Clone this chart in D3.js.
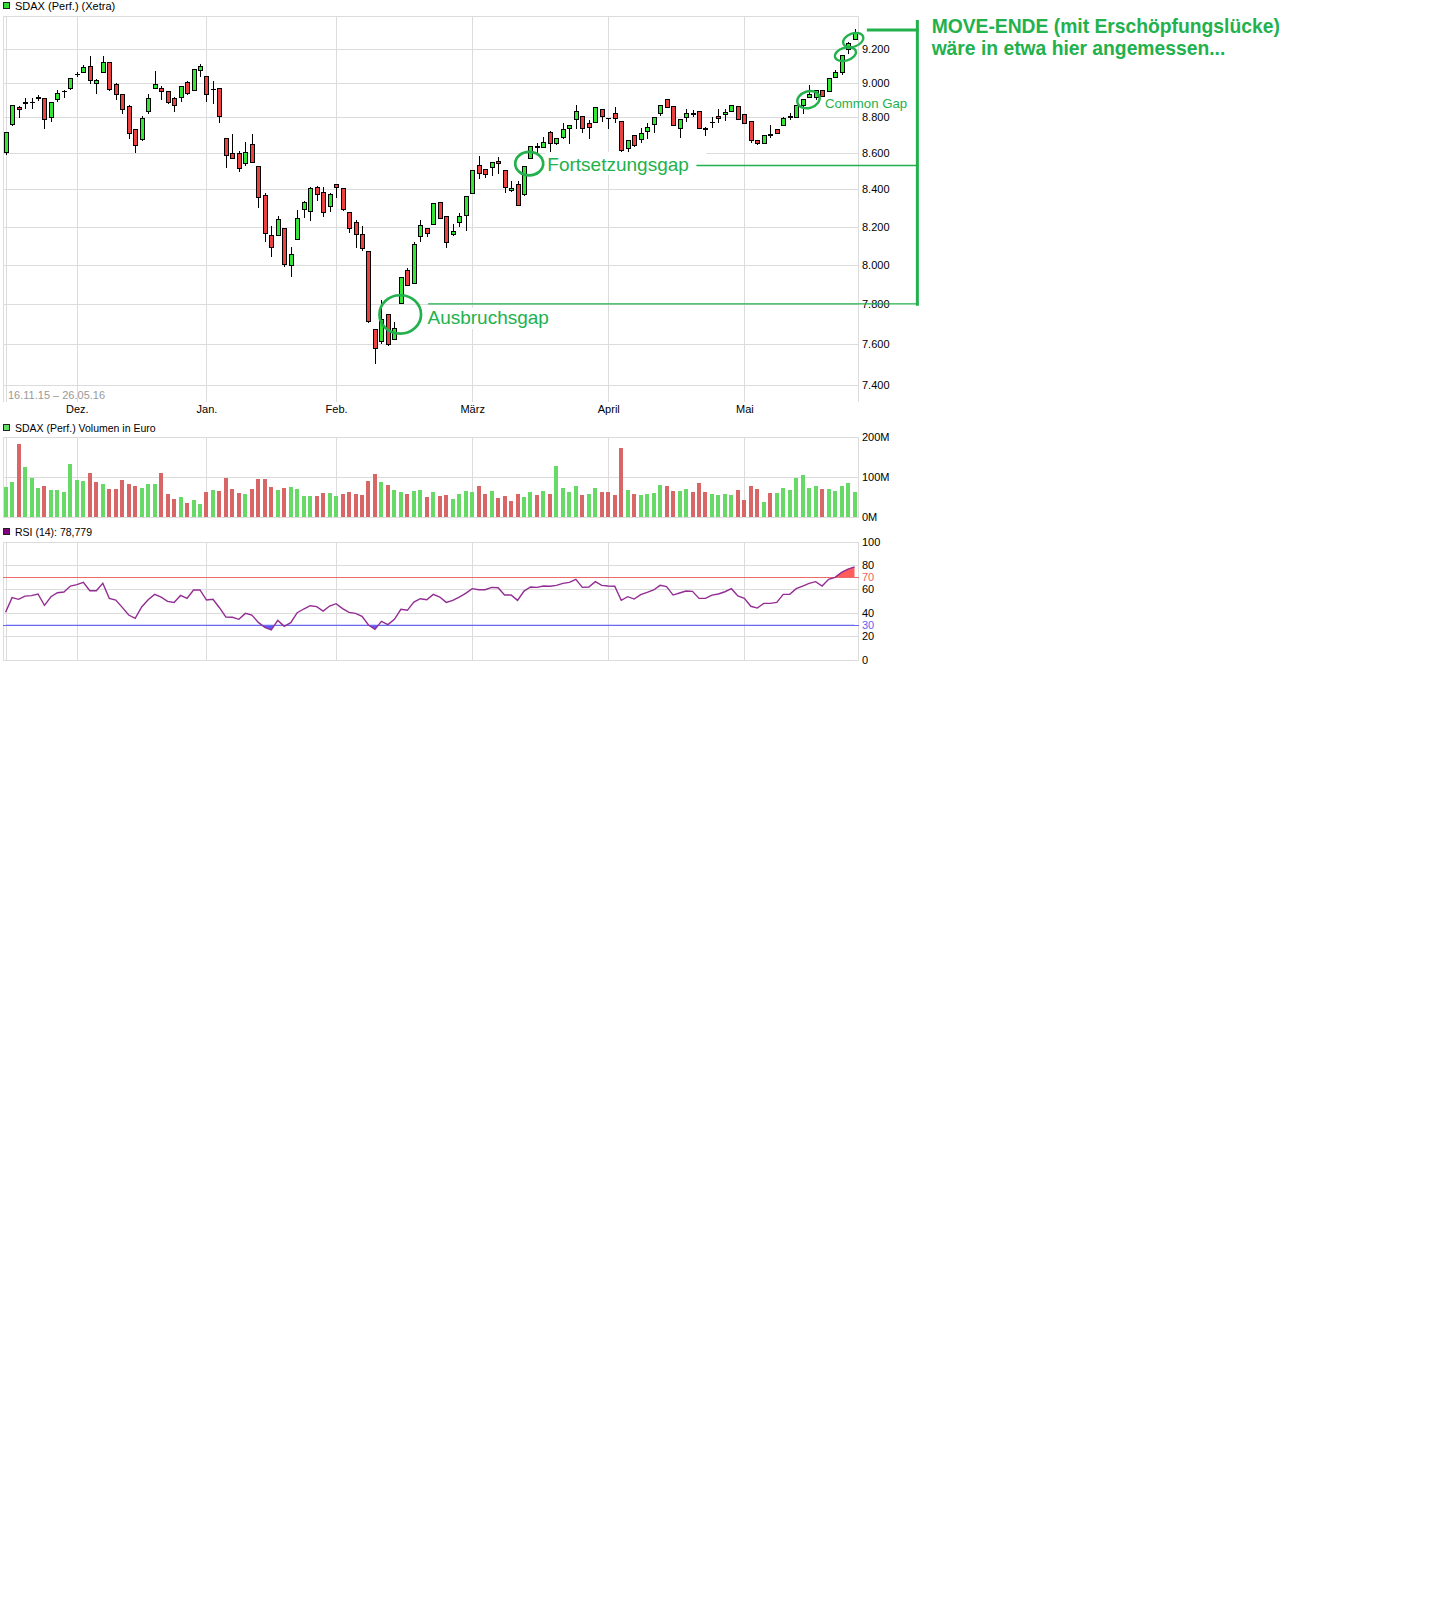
<!DOCTYPE html>
<html lang="de">
<head>
<meta charset="utf-8">
<title>SDAX (Perf.) (Xetra)</title>
<script src="https://cdn.jsdelivr.net/npm/d3@7"></script>
<style>
  html, body { margin:0; padding:0; background:#fff; }
  svg { display:block; }
  text { font-family: "Liberation Sans", Arial, Helvetica, sans-serif; }
</style>
</head>
<body>
<svg id="chart" width="1440" height="1599"></svg>
<script>
// ---------------- DATA ----------------
const openP = [8603,8764,8859,8891,8888,8920,8909,8800,8903,8954,
8971,9051,9065,9100,9000,9061,9124,8994,8937,8863,
8733,8678,8834,8971,8971,8949,8909,8920,9006,8960,
9076,9041,8963,8971,8683,8600,8600,8544,8650,8528,
8369,8153,8153,8190,8000,8132,8292,8284,8411,8387,
8311,8429,8405,8276,8222,8163,8074,7675,7613,7750,
7625,7805,7975,7905,8151,8195,8216,8329,8256,8163,
8226,8262,8378,8535,8513,8524,8553,8507,8396,8429,
8373,8571,8641,8633,8717,8656,8692,8739,8789,8809,
8770,8772,8846,8798,8823,8781,8628,8703,8678,8725,
8761,8823,8903,8866,8739,8800,8823,8834,8739,8776,
8811,8817,8834,8866,8817,8778,8672,8656,8705,8733,
8755,8811,8803,8874,8918,8918,8960,8949,9033,9063,
9200,9256];
const highP = [8717,8874,8865,8914,8914,8926,8909,8891,8960,8960,
9029,9061,9106,9155,9024,9155,9124,9000,8937,8869,
8733,8806,8934,9067,8983,8949,8918,8983,9012,9082,
9112,9041,9012,8971,8683,8709,8611,8661,8709,8528,
8380,8202,8256,8190,8092,8288,8335,8414,8418,8411,
8382,8429,8405,8276,8233,8202,8074,7675,7821,7750,
7708,7938,7985,8118,8237,8195,8327,8329,8256,8216,
8273,8364,8507,8585,8513,8550,8578,8507,8445,8445,
8529,8640,8656,8689,8724,8683,8767,8759,8874,8809,
8785,8857,8846,8798,8857,8781,8670,8703,8739,8767,
8803,8874,8903,8866,8789,8846,8843,8834,8748,8803,
8849,8849,8869,8866,8817,8778,8672,8703,8759,8733,
8803,8823,8869,8903,8989,8960,8960,9029,9073,9165,
9240,9320];
const lowP = [8594,8759,8803,8856,8852,8899,8742,8781,8895,8918,
8966,9039,9065,8998,8938,9061,8960,8907,8826,8683,
8603,8670,8823,8971,8903,8880,8834,8897,8932,8960,
9041,8895,8883,8776,8520,8572,8498,8533,8550,8303,
8123,8044,8153,7996,7943,8132,8251,8233,8341,8257,
8284,8357,8287,8171,8093,8079,7710,7507,7605,7593,
7625,7805,7897,7905,8125,8150,8216,8248,8093,8155,
8202,8180,8378,8462,8466,8478,8488,8387,8391,8313,
8368,8571,8600,8633,8609,8650,8683,8656,8739,8720,
8683,8772,8781,8742,8776,8603,8603,8637,8664,8683,
8720,8813,8857,8756,8692,8781,8808,8739,8702,8748,
8776,8785,8834,8789,8767,8659,8652,8656,8689,8714,
8755,8789,8803,8823,8918,8903,8923,8949,9033,9049,
9176,9256];
const closeP = [8717,8869,8846,8880,8889,8909,8789,8891,8943,8954,
9029,9051,9094,9018,9015,9124,8966,8937,8851,8711,
8644,8794,8909,8994,8949,8891,8874,8983,8943,9082,
9100,8937,8963,8811,8589,8572,8517,8606,8550,8357,
8168,8090,8243,8005,8058,8248,8329,8405,8375,8276,
8373,8411,8292,8195,8163,8088,7713,7581,7722,7600,
7680,7938,7897,8106,8211,8168,8324,8248,8121,8175,
8256,8364,8507,8488,8482,8550,8544,8411,8408,8313,
8529,8637,8631,8659,8656,8683,8733,8759,8838,8739,
8744,8857,8809,8798,8794,8614,8670,8644,8714,8748,
8800,8874,8857,8756,8789,8823,8820,8739,8735,8776,
8794,8830,8869,8789,8770,8670,8656,8703,8700,8714,
8794,8800,8869,8903,8937,8960,8923,9029,9063,9165,
9234,9300];
// Volume in million euro
const volumeM = [74,87,182,124,97,72,77,67,67,62,
134,92,89,109,87,82,69,69,92,82,
77,72,82,82,109,57,44,49,34,42,
32,62,67,64,97,69,59,57,69,94,
94,74,67,72,74,69,52,52,52,59,
59,52,57,62,57,54,89,107,87,79,
67,62,57,64,67,49,62,52,54,44,
57,64,62,77,57,64,47,52,39,57,
49,62,54,64,57,127,72,62,77,54,
57,72,62,62,54,174,67,57,54,57,
59,79,77,64,64,69,62,84,62,57,
54,57,54,67,42,77,69,37,59,59,
72,67,97,104,72,77,69,69,64,77,
84,62];
// RSI (14)
const rsi14 = [40.3,52.7,51.3,54.0,54.4,55.8,46.2,53.5,56.9,57.5,
62.5,63.7,65.6,58.6,58.6,64.8,52.1,50.7,44.5,38.0,
35.2,44.8,51.0,55.5,53.2,49.6,48.7,54.6,52.1,59.2,
59.2,50.7,51.3,44.2,36.3,36.1,34.4,39.4,38.0,31.8,
27.6,25.4,33.5,28.5,31.5,40.0,43.1,45.9,45.1,41.4,
45.6,47.6,43.4,40.3,39.4,36.9,29.6,25.9,32.7,29.9,
34.4,42.8,42.0,49.0,51.8,51.0,55.5,53.2,48.7,50.4,
53.2,56.3,60.3,59.4,59.4,61.4,61.1,54.9,54.9,50.4,
58.3,61.7,61.4,62.5,62.3,63.1,64.8,65.6,68.2,61.4,
61.7,66.2,63.1,62.5,62.3,50.4,53.5,51.5,55.2,57.2,
59.2,63.1,62.0,54.9,56.6,58.3,58.0,52.1,52.1,54.9,
55.8,57.7,60.3,54.1,52.1,45.4,43.9,47.9,47.9,48.7,
55.5,55.5,60.3,62.5,64.8,66.2,62.5,68.2,69.9,74.1,
76.9,78.779];
const monthLabels = ["Dez.","Jan.","Feb.","März","April","Mai"];
const monthStartIdx = [11,31,51,72,93,114];
const priceTicks = [9200,9000,8800,8600,8400,8200,8000,7800,7600,7400];
const priceGrid = [9400,9200,9000,8800,8600,8400,8200,8000,7800,7600,7400];
const volTicks = [200,100,0];
const rsiTicks = [100,80,60,40,20,0];
const rsiLevels = [70,30];
const dateRange = "16.11.15 \u2013 26.05.16";
const titles = ["SDAX (Perf.) (Xetra)", "SDAX (Perf.) Volumen in Euro", "RSI (14): "];
// Annotations in data units (candle index, price level)
const annoEllipses = [
  {i:60.9, p:7747, rx:20.8, ry:19.2, rot:0, w:2.7},
  {i:80.8, p:8541, rx:14, ry:11.7, rot:0, w:2.7},
  {i:123.9, p:8902, rx:11.5, ry:8.3, rot:-18, w:2.4},
  {i:129.6, p:9168, rx:10.8, ry:6.4, rot:-16, w:2.3},
  {i:130.8, p:9252, rx:10.5, ry:6.6, rot:-20, w:2.3}
];
const annoTexts = [
  {t:"Ausbruchsgap", i:65.1, p:7700, size:19, bold:false, box:[1,125,-16,5]},
  {t:"Fortsetzungsgap", i:83.6, p:8500, size:19, bold:false, box:[-2,159,-19,4]},
  {t:"Common Gap", i:126.45, p:8853, size:13.2, bold:false, box:null},
  {t:"MOVE-ENDE (mit Erschöpfungslücke)", i:142.9, p:9293, size:19.3, bold:true, box:null},
  {t:"wäre in etwa hier angemessen...", i:142.9, p:9164, size:19.3, bold:true, box:null}
];
const annoLines = [
  {i1:65.2, p1:7800, i2:140.9, p2:7800, w:1.4},
  {i1:106.6, p1:8531, i2:140.9, p2:8531, w:1.4},
  {i1:132.9, p1:9312, i2:140.9, p2:9312, w:3},
  {i1:140.7, p1:9372, i2:140.7, p2:7790, w:3}
];

// ---------------- DRAWING ----------------
const svg = d3.select("#chart");
svg.append("rect").attr("width",1440).attr("height",1599).attr("fill","#fff");

const x = d3.scaleLinear().domain([-0.4, 131.6]).range([3, 858.4]);
const plotL = 3, plotR = 858;
const yP = d3.scaleLog().domain([7325, 9400]).range([401, 15.5]);
const yV = d3.scaleLinear().domain([0, 200]).range([516.7, 437.3]);
const yR = d3.scaleLinear().domain([0, 100]).range([660, 541.7]);
const crisp = v => Math.round(v) + 0.5;
const GRID = "#dcdcdc";
const GREEN = "#36e636", RED = "#eb4141";
const VGREEN = "#66d966", VRED = "#d96666";
const ANNO = "#22b14c";
const deLocale = d3.formatLocale({decimal:",", thousands:".", grouping:[3], currency:["","\u20ac"]});
const fmtPrice = deLocale.format(",.0f");
const fmtRsi = deLocale.format(".3f");

function panelGrid(yScale, values, yTop, yBot) {
  const g = svg.append("g").attr("shape-rendering","crispEdges");
  g.selectAll("line.h").data(values).join("line")
    .attr("x1", plotL).attr("x2", plotR + 1)
    .attr("y1", d => crisp(yScale(d))).attr("y2", d => crisp(yScale(d)))
    .attr("stroke", GRID);
  g.selectAll("line.v").data(monthStartIdx).join("line")
    .attr("x1", d => crisp(x(d))).attr("x2", d => crisp(x(d)))
    .attr("y1", Math.round(yTop)).attr("y2", Math.round(yBot) + 1)
    .attr("stroke", GRID);
  [plotL, plotL + 2.5, plotR].forEach(xx => {
    g.append("line").attr("x1", crisp(xx)).attr("x2", crisp(xx))
      .attr("y1", Math.round(yTop)).attr("y2", Math.round(yBot) + 1).attr("stroke", GRID);
  });
}
function rightAxis(yScale, values, fmt) {
  const g = svg.append("g").attr("transform", `translate(${plotR},0)`)
    .call(d3.axisRight(yScale).tickValues(values).tickSize(0).tickPadding(4).tickFormat(fmt));
  g.select(".domain").remove();
  g.selectAll("text").attr("font-size", 11).attr("fill", "#000")
    .attr("font-family", '"Liberation Sans", Arial, sans-serif');
  return g;
}
function legendTitle(yBase, color, label, size) {
  svg.append("rect").attr("x", 3.5).attr("y", yBase - 7.5).attr("width", 6).attr("height", 6)
    .attr("fill", color).attr("stroke", "#222").attr("shape-rendering","crispEdges");
  svg.append("text").attr("x", 15).attr("y", yBase).attr("font-size", size).attr("fill", "#000").text(label);
}

// ---- Main price panel ----
panelGrid(yP, priceGrid, yP(9400), 401);
rightAxis(yP, priceTicks, fmtPrice);
legendTitle(9.5, "#33dd33", titles[0], 11);
svg.append("text").attr("x", 8).attr("y", 398.5).attr("font-size", 11).attr("fill", "#999").text(dateRange);

const gx = svg.append("g").attr("transform", "translate(0,401)")
  .call(d3.axisBottom(x).tickValues(monthStartIdx).tickSize(0).tickPadding(4)
    .tickFormat((d, k) => monthLabels[k]));
gx.select(".domain").remove();
gx.selectAll("text").attr("font-size", 11).attr("fill", "#000")
  .attr("font-family", '"Liberation Sans", Arial, sans-serif');

// candles
const idx = d3.range(closeP.length);
const gC = svg.append("g").attr("shape-rendering","crispEdges");
const cand = gC.selectAll("g").data(idx).join("g");
cand.append("line")
  .attr("x1", i => Math.round(x(i)) + 0.5).attr("x2", i => Math.round(x(i)) + 0.5)
  .attr("y1", i => Math.round(yP(highP[i]))).attr("y2", i => Math.round(yP(lowP[i])) + 1)
  .attr("stroke", "#000");
cand.each(function(i) {
  const o = openP[i], c = closeP[i];
  const cx = Math.round(x(i));
  const yt = Math.round(yP(Math.max(o, c))), yb = Math.round(yP(Math.min(o, c)));
  const sel = d3.select(this);
  if (yb - yt < 1) {
    sel.append("line").attr("x1", cx - 2).attr("x2", cx + 3)
      .attr("y1", yt + 0.5).attr("y2", yt + 0.5).attr("stroke", "#000");
  } else {
    sel.append("rect").attr("x", cx - 1.5).attr("y", yt + 0.5)
      .attr("width", 4).attr("height", yb - yt)
      .attr("fill", c >= o ? GREEN : RED).attr("stroke", "#000");
  }
});

// ---- Volume panel ----
panelGrid(yV, volTicks, yV(200), yV(0));
rightAxis(yV, volTicks, d => d + "M");
legendTitle(431.5, "#66dd66", titles[1], 10.5);
svg.append("g").attr("shape-rendering","crispEdges")
  .selectAll("rect").data(idx).join("rect")
  .attr("x", i => Math.round(x(i)) - 2).attr("width", 4)
  .attr("y", i => Math.round(yV(volumeM[i])))
  .attr("height", i => Math.round(yV(0)) - Math.round(yV(volumeM[i])))
  .attr("fill", i => (i === 0 || closeP[i] >= closeP[i - 1]) ? VGREEN : VRED);

// ---- RSI panel ----
panelGrid(yR, rsiTicks, yR(100), yR(0));
const ra = rightAxis(yR, rsiTicks.concat(rsiLevels), d => d);
ra.selectAll("text").attr("fill", d => d === 70 ? "#f06060" : d === 30 ? "#6060f0" : "#000");
legendTitle(536, "#800080", titles[2] + fmtRsi(rsi14[rsi14.length - 1]), 10.5);

const defs = svg.append("defs");
defs.append("clipPath").attr("id", "clipHi").append("rect")
  .attr("x", plotL).attr("width", plotR - plotL).attr("y", yR(100)).attr("height", yR(70) - yR(100));
defs.append("clipPath").attr("id", "clipLo").append("rect")
  .attr("x", plotL).attr("width", plotR - plotL).attr("y", yR(30)).attr("height", yR(0) - yR(30));
svg.append("path").datum(rsi14).attr("clip-path", "url(#clipHi)").attr("fill", "#ff5c5c")
  .attr("d", d3.area().x((d, i) => x(i)).y0(yR(70)).y1(d => yR(d)));
svg.append("path").datum(rsi14).attr("clip-path", "url(#clipLo)").attr("fill", "#5c5cff")
  .attr("d", d3.area().x((d, i) => x(i)).y0(yR(30)).y1(d => yR(d)));
svg.append("g").attr("shape-rendering","crispEdges").selectAll("line").data(rsiLevels).join("line")
  .attr("x1", plotL).attr("x2", plotR + 1)
  .attr("y1", d => crisp(yR(d))).attr("y2", d => crisp(yR(d)))
  .attr("stroke", d => d === 70 ? "#ee6a6a" : "#6a6af0");
svg.append("path").datum(rsi14).attr("fill", "none").attr("stroke", "#932c93").attr("stroke-width", 1.4)
  .attr("d", d3.line().x((d, i) => x(i)).y(d => yR(d)));

// ---- Annotations ----
const gA = svg.append("g");
annoTexts.forEach(a => {
  if (!a.box) return;
  gA.append("rect").attr("x", x(a.i) + a.box[0]).attr("y", yP(a.p) + a.box[2])
    .attr("width", a.box[1] - a.box[0]).attr("height", a.box[3] - a.box[2]).attr("fill", "#fff");
});
annoLines.forEach(l => {
  gA.append("line").attr("x1", x(l.i1)).attr("x2", x(l.i2)).attr("y1", yP(l.p1)).attr("y2", yP(l.p2))
    .attr("stroke", ANNO).attr("stroke-width", l.w);
});
annoEllipses.forEach(e => {
  gA.append("ellipse").attr("cx", 0).attr("cy", 0).attr("rx", e.rx).attr("ry", e.ry)
    .attr("transform", `translate(${x(e.i)},${yP(e.p)}) rotate(${e.rot})`)
    .attr("fill", "none").attr("stroke", ANNO).attr("stroke-width", e.w);
});
annoTexts.forEach(a => {
  gA.append("text").attr("x", x(a.i)).attr("y", yP(a.p)).attr("font-size", a.size)
    .attr("font-weight", a.bold ? "bold" : "normal").attr("fill", ANNO).text(a.t);
});
</script>
</body>
</html>
